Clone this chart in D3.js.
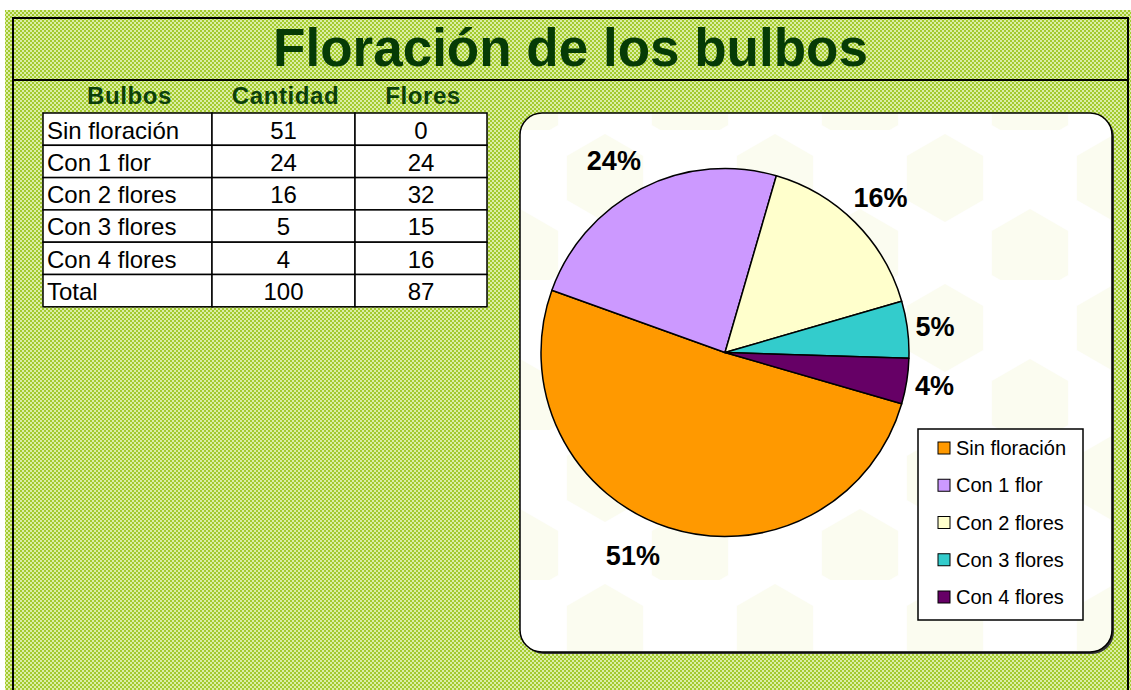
<!DOCTYPE html>
<html>
<head>
<meta charset="utf-8">
<script src="https://cdn.jsdelivr.net/npm/d3@7"></script>
<style>
    body { margin: 0; background: #fff; }
    svg { display: block; font-family: "Liberation Sans", Arial, sans-serif; }
</style>
</head>
<body>
<div class="charts-div"></div>
<script>
// Datos de la hoja
const categories = ["Sin floración", "Con 1 flor", "Con 2 flores", "Con 3 flores", "Con 4 flores"];
const cantidad = [51, 24, 16, 5, 4];
const flores = [0, 24, 32, 15, 16];
const headers = ["Bulbos", "Cantidad", "Flores"];
const sliceColors = ["#ff9900", "#cc99ff", "#ffffcc", "#33cccc", "#660066"];
const title = "Floración de los bulbos";

const width = 1131;
const height = 690;

const svg = d3.select(".charts-div").append("svg")
    .attr("width", width)
    .attr("height", height);

const defs = svg.append("defs");

// green checker background
const checker = defs.append("pattern")
    .attr("id", "checker")
    .attr("width", 4).attr("height", 4)
    .attr("patternUnits", "userSpaceOnUse");
checker.append("rect").attr("width", 4).attr("height", 4).attr("fill", "#a3ca2e");
checker.append("rect").attr("x", 0).attr("y", 0).attr("width", 2).attr("height", 2).attr("fill", "#dbeea6");
checker.append("rect").attr("x", 2).attr("y", 2).attr("width", 2).attr("height", 2).attr("fill", "#dbeea6");

// faint hexagons inside the chart area
const hexPath = (cx, cy, s) => {
    const pts = d3.range(6).map(i => {
        const a = Math.PI / 3 * i - Math.PI / 2;
        return [cx + s * Math.cos(a), cy + s * Math.sin(a)];
    });
    return "M" + pts.join("L") + "Z";
};
const hex = defs.append("pattern")
    .attr("id", "hex")
    .attr("width", 170).attr("height", 150)
    .attr("x", 560).attr("y", 130)
    .attr("patternUnits", "userSpaceOnUse");
hex.append("rect").attr("width", 170).attr("height", 150).attr("fill", "#fff");
hex.append("path").attr("d", hexPath(45, 48, 44)).attr("fill", "#fbfcf0");
hex.append("path").attr("d", hexPath(130, 123, 44)).attr("fill", "#fbfcf0");

svg.append("rect")
    .attr("x", 5).attr("y", 10)
    .attr("width", width - 5).attr("height", height - 10)
    .attr("fill", "url(#checker)");

// frame lines
svg.append("path")
    .attr("d", "M13,691V18H1128V691M13,80H1128")
    .attr("fill", "none")
    .attr("stroke", "#000")
    .attr("stroke-width", 2);

svg.append("text")
    .attr("x", 570.5).attr("y", 66)
    .attr("text-anchor", "middle")
    .attr("font-size", 53)
    .attr("font-weight", "bold")
    .attr("fill", "#063b06")
    .text(title);

// ---- table ----
const colEdges = [43, 212, 355, 487];
const rowTop = 113;
const rowH = 32.3;
const rows = categories.map((c, i) => [c, cantidad[i], flores[i]]);
rows.push(["Total", d3.sum(cantidad), d3.sum(flores)]);

const table = svg.append("g");

table.selectAll(".head")
    .data(headers)
    .join("text")
    .attr("x", (d, i) => (colEdges[i] + colEdges[i + 1]) / 2 + 2)
    .attr("y", 104)
    .attr("text-anchor", "middle")
    .attr("font-size", 24)
    .attr("font-weight", "bold")
    .attr("letter-spacing", 0.6)
    .attr("fill", "#0b3f0b")
    .text(d => d);

rows.forEach((row, r) => {
    row.forEach((val, c) => {
        const x0 = colEdges[c], x1 = colEdges[c + 1];
        const y0 = rowTop + r * rowH;
        table.append("rect")
            .attr("x", x0).attr("y", y0)
            .attr("width", x1 - x0).attr("height", rowH)
            .attr("fill", "#fff")
            .attr("stroke", "#000")
            .attr("stroke-width", 1.5);
        table.append("text")
            .attr("x", c === 0 ? x0 + 4 : (x0 + x1) / 2)
            .attr("y", y0 + 25.5)
            .attr("text-anchor", c === 0 ? "start" : "middle")
            .attr("font-size", 24)
            .attr("fill", "#000")
            .text(val);
    });
});

// ---- chart area ----
const area = { x: 520, y: 113, w: 592, h: 539 };
svg.append("rect")
    .attr("x", area.x + 2).attr("y", area.y + 2)
    .attr("width", area.w).attr("height", area.h)
    .attr("rx", 22)
    .attr("fill", "#333");
svg.append("rect")
    .attr("x", area.x).attr("y", area.y)
    .attr("width", area.w).attr("height", area.h)
    .attr("rx", 22)
    .attr("fill", "url(#hex)")
    .attr("stroke", "#000")
    .attr("stroke-width", 1.5);

const cx = 725, cy = 352.5, radius = 184;
const start = 106.2 * Math.PI / 180;

const pie = d3.pie().sort(null).startAngle(start).endAngle(start + 2 * Math.PI);
const arcs = pie(cantidad);
const arc = d3.arc().innerRadius(0).outerRadius(radius);
const total = d3.sum(cantidad);

const pieG = svg.append("g").attr("transform", `translate(${cx},${cy})`);

pieG.selectAll(".slice")
    .data(arcs)
    .join("path")
    .attr("class", "slice")
    .attr("d", arc)
    .attr("fill", (d, i) => sliceColors[i])
    .attr("stroke", "#000")
    .attr("stroke-width", 1.5)
    .attr("stroke-linejoin", "round");

// percentage labels outside the pie
pieG.selectAll(".lbl")
    .data(arcs)
    .join("text")
    .attr("class", "lbl")
    .attr("transform", d => {
        // the two big slices have their labels nudged toward their shared edge
        const span = d.endAngle - d.startAngle;
        const nudge = span > 1.2 ? 0.035 * span * (d.index === 1 ? -1 : 1) : 0;
        const a = (d.startAngle + d.endAngle) / 2 + nudge;
        const dx = Math.sin(a), dy = -Math.cos(a);
        const rl = radius + 26 + Math.abs(dy) * 14;
        return `translate(${dx * rl},${dy * rl})`;
    })
    .attr("dy", "0.36em")
    .attr("text-anchor", "middle")
    .attr("font-size", 27)
    .attr("font-weight", "bold")
    .attr("fill", "#000")
    .text(d => Math.round(d.value / total * 100) + "%");

// ---- legend ----
const legend = svg.append("g");
legend.append("rect")
    .attr("x", 918).attr("y", 429)
    .attr("width", 165).attr("height", 191)
    .attr("fill", "#fff")
    .attr("stroke", "#000")
    .attr("stroke-width", 1.5);

const legendY = d3.scalePoint().domain(categories).range([448, 597]);

const items = legend.selectAll(".item")
    .data(categories)
    .join("g")
    .attr("class", "item")
    .attr("transform", d => `translate(0,${legendY(d)})`);

items.append("rect")
    .attr("x", 938).attr("y", -6)
    .attr("width", 12).attr("height", 12)
    .attr("fill", (d, i) => sliceColors[i])
    .attr("stroke", "#000")
    .attr("stroke-width", 1);

items.append("text")
    .attr("x", 956).attr("y", 7)
    .attr("font-size", 20)
    .attr("fill", "#000")
    .text(d => d);
</script>
</body>
</html>
